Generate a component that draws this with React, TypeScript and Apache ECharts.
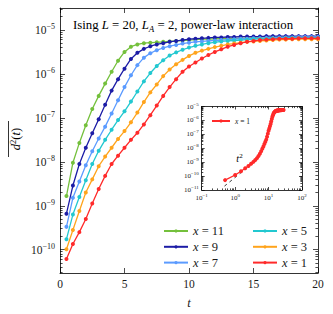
import React, { useEffect, useRef } from "react";
import * as echarts from "echarts";

// ---------- data (values are log10 of d^2(t)) ----------
const tMain = [
  0.5, 1, 1.5, 2, 2.5, 3, 3.5, 4, 4.5, 5, 5.5, 6, 6.5, 7, 7.5, 8, 8.5, 9, 9.5, 10,
  10.5, 11, 11.5, 12, 12.5, 13, 13.5, 14, 14.5, 15, 15.5, 16, 16.5, 17, 17.5, 18, 18.5, 19, 19.5, 20,
];
const seriesLabels = ["11", "9", "7", "5", "3", "1"];
const seriesColors = ["#74c03c", "#1c1ca6", "#5b9bff", "#22c8d0", "#ffa41c", "#ff2a2a"];

const logD_x11 = [
  -8.78, -8.02, -7.57, -7.17, -6.8, -6.5, -6.22, -5.95, -5.7, -5.5,
  -5.38, -5.33, -5.3, -5.29, -5.28, -5.27, -5.26, -5.25, -5.24, -5.23,
  -5.22, -5.21, -5.21, -5.2, -5.2, -5.19, -5.19, -5.19, -5.18, -5.18,
  -5.18, -5.18, -5.17, -5.17, -5.17, -5.17, -5.17, -5.17, -5.17, -5.17,
];
const logD_x9 = [
  -9.18, -8.54, -8.05, -7.68, -7.35, -7.03, -6.7, -6.38, -6.12, -5.88,
  -5.66, -5.52, -5.43, -5.37, -5.33, -5.3, -5.27, -5.25, -5.23, -5.21,
  -5.2, -5.19, -5.18, -5.17, -5.17, -5.16, -5.16, -5.15, -5.15, -5.15,
  -5.15, -5.14, -5.14, -5.14, -5.14, -5.14, -5.14, -5.14, -5.14, -5.14,
];
const logD_x7 = [
  -9.48, -8.82, -8.45, -8.08, -7.76, -7.47, -7.2, -6.9, -6.6, -6.3,
  -6.03, -5.8, -5.63, -5.53, -5.46, -5.41, -5.37, -5.34, -5.31, -5.29,
  -5.27, -5.26, -5.25, -5.24, -5.23, -5.22, -5.21, -5.2, -5.2, -5.19,
  -5.19, -5.18, -5.18, -5.17, -5.17, -5.17, -5.16, -5.16, -5.16, -5.16,
];
const logD_x5 = [
  -9.76, -9.2, -8.8, -8.42, -8.05, -7.75, -7.5, -7.27, -7.05, -6.85,
  -6.63, -6.4, -6.17, -5.98, -5.82, -5.69, -5.58, -5.51, -5.45, -5.4,
  -5.36, -5.33, -5.3, -5.28, -5.26, -5.25, -5.24, -5.23, -5.22, -5.21,
  -5.2, -5.2, -5.19, -5.19, -5.18, -5.18, -5.18, -5.18, -5.18, -5.18,
];
const logD_x3 = [
  -9.99, -9.55, -9.12, -8.7, -8.4, -8.1, -7.88, -7.68, -7.48, -7.3,
  -7.1, -6.88, -6.64, -6.42, -6.24, -6.05, -5.9, -5.78, -5.68, -5.59,
  -5.52, -5.47, -5.43, -5.39, -5.36, -5.33, -5.31, -5.29, -5.27, -5.26,
  -5.25, -5.24, -5.23, -5.22, -5.22, -5.21, -5.21, -5.21, -5.21, -5.21,
];
const logD_x1 = [
  -10.21, -9.87, -9.6, -9.3, -8.95, -8.62, -8.32, -8.05, -7.86, -7.68,
  -7.5, -7.34, -7.15, -6.94, -6.72, -6.5, -6.3, -6.12, -5.95, -5.83,
  -5.74, -5.65, -5.57, -5.5, -5.44, -5.38, -5.34, -5.3, -5.27, -5.25,
  -5.23, -5.22, -5.21, -5.2, -5.2, -5.2, -5.19, -5.19, -5.19, -5.19,
];
const mainSeries = [logD_x11, logD_x9, logD_x7, logD_x5, logD_x3, logD_x1];

const tInset = [
  0.5, 1, 1.5, 2, 2.5, 3, 3.5, 4, 4.5, 5, 5.5, 6, 6.5, 7, 7.5, 8, 8.5, 9, 9.5, 10,
  10.5, 11, 11.5, 12, 12.5, 13, 13.5, 14, 14.5, 15, 15.5, 16, 16.5, 17, 17.5, 18, 18.5, 19, 19.5, 20,
  20.5, 21, 21.5, 22, 22.5, 23, 23.5, 24, 24.5, 25, 25.5, 26, 26.5, 27, 27.5, 28,
];
const logD_inset_x1 = [
  -10.29, -9.92, -9.65, -9.44, -9.27, -9.12, -8.98, -8.84, -8.71, -8.55,
  -8.39, -8.21, -8.04, -7.88, -7.7, -7.54, -7.38, -7.17, -6.95, -6.75,
  -6.58, -6.42, -6.25, -6.08, -5.9, -5.73, -5.62, -5.52, -5.45, -5.41,
  -5.37, -5.34, -5.32, -5.31, -5.3, -5.29, -5.28, -5.28, -5.28, -5.27,
  -5.27, -5.27, -5.26, -5.26, -5.26, -5.26, -5.26, -5.26, -5.25, -5.25,
  -5.25, -5.25, -5.25, -5.25, -5.25, -5.25,
];
const guideT = [0.48, 5.0];
const guideLogD = [-10.72, -8.73];

const mainXTicks = [0, 5, 10, 15, 20];
const mainYDecades = [-10, -9, -8, -7, -6, -5];
const insetXDecades = [-1, 0, 1, 2];
const insetYDecades = [-11, -10, -9, -8, -7, -6, -5];

// ---------- helpers ----------
const FONT = "Liberation Serif";
const TXT = "#1a1a1a";

function minorLog(lo: number, hi: number) {
  const out: number[] = [];
  for (let n = Math.floor(lo); n <= Math.ceil(hi); n++) {
    for (let k = 2; k <= 9; k++) {
      const v = n + Math.log10(k);
      if (v > lo + 1e-6 && v < hi - 1e-6) out.push(v);
    }
  }
  return out;
}

const powLabel = (v: number) => {
  const n = Math.round(v);
  return `{b|10}{s|${n < 0 ? "\u2212" : ""}${Math.abs(n)}}`;
};

function powRich(base: number, sup: number, baseLH: number, supLH: number) {
  return {
    b: { fontSize: base, fontFamily: FONT, color: TXT, lineHeight: baseLH },
    s: { fontSize: sup, fontFamily: FONT, color: TXT, lineHeight: supLH, verticalAlign: "top" },
  };
}

function axis(opts: any) {
  const {
    gridIndex, position, min, max, ticks, len, labels, labelOpts, showLine = true,
  } = opts;
  return {
    type: "value",
    gridIndex,
    position,
    min,
    max,
    splitLine: { show: false },
    axisLine: { show: showLine, onZero: false, lineStyle: { color: "#000", width: 0.8 } },
    axisTick: {
      show: true,
      inside: true,
      length: len,
      customValues: ticks,
      lineStyle: { color: "#000", width: 0.7 },
    },
    axisLabel: labels
      ? { show: true, customValues: labels, ...labelOpts }
      : { show: false },
  };
}

export default function App() {
  const ref = useRef<HTMLDivElement>(null);

  useEffect(() => {
    if (!ref.current) return;
    const chart = echarts.init(ref.current, null, { renderer: "svg" });

    const mainYMin = -10.53;
    const mainYMax = -4.5;
    const insYMin = -11;
    const insYMax = -5;
    const insXMin = -1;
    const insXMax = 2;

    const mainGrid = { left: 60, top: 8, width: 258, height: 267 };
    const insetGrid = {
      left: 201.7, top: 106.5, width: 100.3, height: 83.5,
      show: true, backgroundColor: "#fff", borderWidth: 0,
    };

    const mainMinorY = minorLog(mainYMin, mainYMax);
    const insMinorY = minorLog(insYMin, insYMax);
    const insMinorX = minorLog(insXMin, insXMax);

    const xAxes = [
      axis({
        gridIndex: 0, position: "bottom", min: 0, max: 20, ticks: mainXTicks, len: 5,
        labels: mainXTicks,
        labelOpts: { margin: 5, fontSize: 11.5, fontFamily: FONT, color: TXT },
      }),
      axis({ gridIndex: 0, position: "top", min: 0, max: 20, ticks: mainXTicks, len: 5 }),
      axis({
        gridIndex: 1, position: "bottom", min: insXMin, max: insXMax, ticks: insetXDecades, len: 3,
        labels: insetXDecades,
        labelOpts: { margin: 3, formatter: powLabel, rich: powRich(7, 5, 10, 5) },
      }),
      axis({ gridIndex: 1, position: "bottom", min: insXMin, max: insXMax, ticks: insMinorX, len: 1.6, showLine: false }),
      axis({ gridIndex: 1, position: "top", min: insXMin, max: insXMax, ticks: insetXDecades, len: 3 }),
      axis({ gridIndex: 1, position: "top", min: insXMin, max: insXMax, ticks: insMinorX, len: 1.6, showLine: false }),
    ];
    (xAxes[0] as any).name = "t";
    (xAxes[0] as any).nameLocation = "middle";
    (xAxes[0] as any).nameGap = 23;
    (xAxes[0] as any).nameTextStyle = { fontSize: 12.5, fontStyle: "italic", fontFamily: FONT, color: TXT };

    const yAxes = [
      axis({
        gridIndex: 0, position: "left", min: mainYMin, max: mainYMax, ticks: mainYDecades, len: 5,
        labels: mainYDecades,
        labelOpts: { margin: 5, formatter: powLabel, rich: powRich(11.5, 8, 15, 7) },
      }),
      axis({ gridIndex: 0, position: "left", min: mainYMin, max: mainYMax, ticks: mainMinorY, len: 2.6, showLine: false }),
      axis({ gridIndex: 0, position: "right", min: mainYMin, max: mainYMax, ticks: mainYDecades, len: 5 }),
      axis({ gridIndex: 0, position: "right", min: mainYMin, max: mainYMax, ticks: mainMinorY, len: 2.6, showLine: false }),
      axis({
        gridIndex: 1, position: "left", min: insYMin, max: insYMax, ticks: insetYDecades, len: 3,
        labels: insetYDecades,
        labelOpts: { margin: 3, formatter: powLabel, rich: powRich(7, 5, 10, 5) },
      }),
      axis({ gridIndex: 1, position: "left", min: insYMin, max: insYMax, ticks: insMinorY, len: 1.6, showLine: false }),
      axis({ gridIndex: 1, position: "right", min: insYMin, max: insYMax, ticks: insetYDecades, len: 3 }),
      axis({ gridIndex: 1, position: "right", min: insYMin, max: insYMax, ticks: insMinorY, len: 1.6, showLine: false }),
    ];

    const series: any[] = mainSeries.map((vals, i) => ({
      name: `x = ${seriesLabels[i]}`,
      type: "line",
      xAxisIndex: 0,
      yAxisIndex: 0,
      data: tMain.map((t, j) => [t, vals[j]]),
      symbol: "circle",
      symbolSize: 4,
      showSymbol: true,
      lineStyle: { color: seriesColors[i], width: 1.3 },
      itemStyle: { color: seriesColors[i] },
      z: 3 + i,
    }));
    series.push({
      name: "inset x = 1",
      type: "line",
      xAxisIndex: 2,
      yAxisIndex: 4,
      data: tInset.map((t, j) => [Math.log10(t), logD_inset_x1[j]]),
      symbol: "circle",
      symbolSize: 4,
      lineStyle: { color: "#ff2a2a", width: 1.3 },
      itemStyle: { color: "#ff2a2a" },
      z: 5,
    });
    series.push({
      name: "guide",
      type: "line",
      xAxisIndex: 2,
      yAxisIndex: 4,
      data: guideT.map((t, j) => [Math.log10(t), guideLogD[j]]),
      symbol: "none",
      lineStyle: { color: "#000", width: 0.8, type: [3, 3.5] },
      z: 4,
    });

    const legendText = {
      fontSize: 12.5,
      fontFamily: FONT,
      color: TXT,
      rich: {
        i: { fontStyle: "italic", fontSize: 12.5, fontFamily: FONT, color: TXT },
      },
    };
    const legFmt = (name: string) => {
      const m = name.match(/(\d+)$/);
      return `{i|x} = ${m ? m[1] : ""}`;
    };

    const option: any = {
      animation: false,
      grid: [mainGrid, insetGrid],
      xAxis: xAxes,
      yAxis: yAxes,
      series,
      legend: [
        {
          data: ["x = 11", "x = 9", "x = 7"],
          orient: "vertical",
          left: 158,
          top: 219,
          itemWidth: 24,
          itemHeight: 4,
          itemGap: 1.8,
          formatter: legFmt,
          textStyle: { ...legendText, lineHeight: 14 },
          selectedMode: false,
        },
        {
          data: ["x = 5", "x = 3", "x = 1"],
          orient: "vertical",
          left: 247,
          top: 219,
          itemWidth: 24,
          itemHeight: 4,
          itemGap: 1.8,
          formatter: legFmt,
          textStyle: { ...legendText, lineHeight: 14 },
          selectedMode: false,
        },
        {
          data: ["inset x = 1"],
          orient: "vertical",
          left: 206,
          top: 112,
          itemWidth: 18,
          itemHeight: 4,
          itemGap: 2,
          formatter: legFmt,
          textStyle: {
            fontSize: 7.5, fontFamily: FONT, color: TXT,
            rich: { i: { fontStyle: "italic", fontSize: 7.5, fontFamily: FONT, color: TXT } },
          },
          selectedMode: false,
        },
      ],
      graphic: [
        {
          type: "text",
          x: 73,
          y: 25,
          style: {
            text: "{r|Ising }{i|L}{r| = 20, }{i|L}{sub|A}{r| = 2, power-law interaction}",
            verticalAlign: "middle",
            rich: {
              r: { fontSize: 12.8, fontFamily: FONT, color: TXT, lineHeight: 16 },
              i: { fontSize: 12.8, fontFamily: FONT, fontStyle: "italic", color: TXT, lineHeight: 16 },
              sub: { fontSize: 9, fontFamily: FONT, fontStyle: "italic", color: TXT, lineHeight: 9, verticalAlign: "bottom" },
            },
          },
        },
        {
          type: "text",
          x: 16,
          y: 139,
          rotation: Math.PI / 2,
          style: {
            text: "{i|d}{s|2}{r|(}{i|t}{r|)}",
            align: "center",
            verticalAlign: "middle",
            rich: {
              r: { fontSize: 12.5, fontFamily: FONT, color: TXT, lineHeight: 15 },
              i: { fontSize: 12.5, fontFamily: FONT, fontStyle: "italic", color: TXT, lineHeight: 15 },
              s: { fontSize: 8.5, fontFamily: FONT, color: TXT, lineHeight: 7, verticalAlign: "top" },
            },
          },
        },
        {
          type: "line",
          shape: { x1: 8.5, y1: 121, x2: 8.5, y2: 157 },
          style: { stroke: "#000", lineWidth: 0.8 },
        },
        {
          type: "text",
          x: 239.5,
          y: 158.5,
          style: {
            text: "{i|t}{s|2}",
            align: "center",
            verticalAlign: "middle",
            rich: {
              i: { fontSize: 10, fontFamily: FONT, fontStyle: "italic", color: TXT, lineHeight: 12 },
              s: { fontSize: 7, fontFamily: FONT, color: TXT, lineHeight: 6, verticalAlign: "top" },
            },
          },
        },
      ],
    };

    chart.setOption(option);
    return () => chart.dispose();
  }, []);

  return (
    <div
      ref={ref}
      style={{ position: "absolute", left: 0, top: 0, width: 333, height: 314, background: "#fff" }}
    />
  );
}
